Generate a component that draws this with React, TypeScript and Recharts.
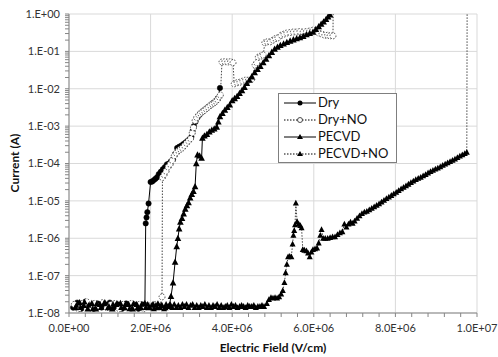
import React from "react";
import {
  LineChart,
  Line,
  XAxis,
  YAxis,
  CartesianGrid,
  Legend,
} from "recharts";

// field in MV/cm (x1e6 V/cm), current in A
const dry: [number, number][] = [
  [0.1, 1.4e-8], [0.2, 1.9e-8], [0.3, 1.3e-8], [0.4, 2.0e-8], [0.5, 1.6e-8], [0.6, 1.3e-8],
  [0.7, 1.8e-8], [0.8, 1.4e-8], [0.9, 1.7e-8], [1.0, 1.9e-8], [1.1, 1.4e-8], [1.2, 1.7e-8],
  [1.3, 1.3e-8], [1.4, 1.8e-8], [1.5, 1.4e-8], [1.6, 1.7e-8], [1.7, 1.3e-8], [1.8, 1.7e-8],
  [1.86, 1.5e-8], [1.88, 2.5e-6], [1.9, 3.6e-6], [1.92, 5.0e-6], [1.95, 8.5e-6], [2.0, 3.2e-5],
  [2.04, 3.3e-5], [2.08, 3.6e-5], [2.12, 3.9e-5], [2.16, 4.3e-5], [2.2, 5.2e-5], [2.25, 6.0e-5],
  [2.3, 7.0e-5], [2.35, 8.0e-5], [2.4, 9.5e-5], [2.45, 1.0e-4], [2.5, 1.15e-4], [2.55, 1.3e-4],
  [2.6, 1.8e-4], [2.65, 2.6e-4], [2.7, 2.8e-4], [2.75, 3.0e-4], [2.8, 3.3e-4], [2.85, 3.6e-4],
  [2.9, 4.0e-4], [2.95, 4.5e-4], [3.0, 5.2e-4], [3.03, 7.5e-4], [3.06, 1.0e-3], [3.1, 1.3e-3],
  [3.15, 1.7e-3], [3.2, 2.0e-3], [3.25, 2.3e-3], [3.3, 2.6e-3], [3.35, 2.9e-3], [3.4, 3.2e-3],
  [3.45, 3.5e-3], [3.5, 3.9e-3], [3.55, 4.3e-3], [3.6, 4.8e-3], [3.65, 5.6e-3], [3.7, 1.05e-2],
];

const dryNo: [number, number][] = [
  [0.13, 1.7e-8], [0.23, 1.3e-8], [0.33, 1.8e-8], [0.43, 2.0e-8], [0.53, 1.4e-8], [0.63, 1.8e-8],
  [0.73, 1.5e-8], [0.83, 1.9e-8], [0.93, 1.4e-8], [1.03, 1.7e-8], [1.13, 1.8e-8], [1.23, 1.3e-8],
  [1.33, 1.7e-8], [1.43, 1.4e-8], [1.53, 1.8e-8], [1.63, 1.4e-8], [1.73, 1.7e-8], [1.83, 1.3e-8],
  [1.93, 1.6e-8], [2.03, 1.4e-8], [2.13, 1.7e-8], [2.23, 1.5e-8], [2.28, 2.7e-8], [2.29, 4.2e-5],
  [2.33, 5.0e-5], [2.38, 6.2e-5], [2.43, 8.0e-5], [2.48, 9.5e-5], [2.53, 1.2e-4], [2.58, 1.6e-4],
  [2.63, 1.9e-4], [2.68, 2.2e-4], [2.73, 2.4e-4], [2.78, 2.6e-4], [2.83, 3.0e-4], [2.88, 3.5e-4],
  [2.93, 4.0e-4], [2.98, 4.6e-4], [3.02, 6.5e-4], [3.05, 9.0e-4], [3.09, 1.4e-3], [3.13, 1.7e-3],
  [3.18, 2.0e-3], [3.22, 2.2e-3], [3.26, 2.4e-3], [3.31, 2.6e-3], [3.36, 2.9e-3], [3.41, 3.2e-3],
  [3.46, 3.6e-3], [3.51, 3.9e-3], [3.56, 4.2e-3], [3.6, 4.6e-3], [3.64, 5.1e-3], [3.68, 6.0e-3],
  [3.71, 6.8e-3], [3.75, 5.2e-2], [3.82, 5.3e-2], [3.89, 5.2e-2], [3.96, 5.3e-2], [4.02, 5.0e-2],
  [4.05, 1.35e-2], [4.12, 1.45e-2], [4.19, 1.5e-2], [4.26, 1.6e-2], [4.33, 1.7e-2], [4.4, 1.7e-2],
  [4.48, 1.8e-2], [4.56, 4.3e-2], [4.6, 5.0e-2], [4.64, 7.0e-2], [4.7, 7.5e-2], [4.76, 8.0e-2],
  [4.8, 1.7e-1], [4.86, 1.8e-1], [4.93, 1.8e-1], [5.0, 2.0e-1], [5.06, 2.2e-1], [5.12, 2.3e-1],
  [5.2, 2.7e-1], [5.27, 2.9e-1], [5.34, 3.1e-1], [5.42, 3.2e-1], [5.5, 3.3e-1], [5.58, 3.3e-1],
  [5.66, 3.4e-1], [5.74, 3.3e-1], [5.82, 3.4e-1], [5.9, 3.5e-1], [5.98, 3.7e-1], [6.06, 3.5e-1],
  [6.12, 3.1e-1], [6.2, 2.9e-1], [6.27, 2.7e-1], [6.34, 2.7e-1], [6.4, 2.6e-1], [6.47, 2.6e-1],
  [6.48, 10],
];

const pecvd: [number, number][] = [
  [0.16, 1.4e-8], [0.26, 1.9e-8], [0.36, 1.6e-8], [0.46, 1.3e-8], [0.56, 1.8e-8], [0.66, 1.3e-8],
  [0.76, 1.7e-8], [0.86, 1.8e-8], [0.96, 1.4e-8], [1.06, 1.3e-8], [1.16, 1.7e-8], [1.26, 1.8e-8],
  [1.36, 1.4e-8], [1.46, 1.7e-8], [1.56, 1.3e-8], [1.66, 1.7e-8], [1.76, 1.4e-8], [1.86, 1.8e-8],
  [1.96, 1.4e-8], [2.06, 1.7e-8], [2.16, 1.4e-8], [2.26, 1.6e-8], [2.36, 1.4e-8], [2.46, 1.6e-8],
  [2.5, 2.8e-8], [2.55, 6.4e-8], [2.6, 2.3e-7], [2.64, 6.0e-7], [2.67, 1.0e-6], [2.7, 1.8e-6],
  [2.73, 2.7e-6], [2.77, 3.4e-6], [2.81, 4.5e-6], [2.85, 6.0e-6], [2.89, 7.5e-6], [2.93, 9.0e-6],
  [2.97, 1.2e-5], [3.01, 1.5e-5], [3.05, 1.8e-5], [3.09, 2.4e-5], [3.12, 1.0e-4], [3.15, 1.7e-4],
  [3.2, 1.6e-4], [3.25, 1.4e-4], [3.27, 4.8e-4], [3.32, 5.5e-4], [3.38, 6.0e-4], [3.44, 7.0e-4],
  [3.5, 7.8e-4], [3.56, 8.5e-4], [3.62, 9.5e-4], [3.66, 1.3e-3], [3.7, 1.8e-3], [3.76, 2.2e-3],
  [3.82, 2.7e-3], [3.88, 3.2e-3], [3.94, 3.7e-3], [4.0, 4.8e-3], [4.06, 5.5e-3], [4.12, 6.3e-3],
  [4.18, 7.5e-3], [4.24, 9.0e-3], [4.3, 1.1e-2], [4.36, 1.4e-2], [4.42, 1.7e-2], [4.48, 2.1e-2],
  [4.55, 2.7e-2], [4.62, 3.3e-2], [4.69, 4.0e-2], [4.76, 5.0e-2], [4.83, 6.2e-2], [4.9, 7.7e-2],
  [4.97, 9.5e-2], [5.04, 1.15e-1], [5.11, 1.3e-1], [5.18, 1.45e-1], [5.26, 1.6e-1], [5.34, 1.75e-1],
  [5.42, 1.9e-1], [5.5, 2.05e-1], [5.58, 2.2e-1], [5.66, 2.35e-1], [5.74, 2.55e-1], [5.82, 2.8e-1],
  [5.9, 3.05e-1], [5.98, 3.3e-1], [6.05, 3.9e-1], [6.12, 4.6e-1], [6.18, 5.4e-1], [6.24, 6.2e-1],
  [6.3, 7.2e-1], [6.35, 8.4e-1], [6.4, 9.5e-1],
];

const pecvdNo: [number, number][] = [
  [0.18, 1.6e-8], [0.28, 1.4e-8], [0.38, 2.0e-8], [0.48, 1.6e-8], [0.58, 1.3e-8], [0.68, 1.8e-8],
  [0.78, 1.4e-8], [0.88, 1.9e-8], [0.98, 1.5e-8], [1.08, 1.7e-8], [1.18, 1.8e-8], [1.28, 1.4e-8],
  [1.38, 1.7e-8], [1.48, 1.3e-8], [1.58, 1.8e-8], [1.68, 1.4e-8], [1.78, 1.7e-8], [1.88, 1.4e-8],
  [1.93, 1.7e-8], [1.98, 1.4e-8], [2.03, 1.6e-8], [2.08, 1.3e-8], [2.13, 1.6e-8], [2.18, 1.8e-8],
  [2.23, 1.4e-8], [2.28, 1.6e-8], [2.33, 1.3e-8], [2.38, 1.7e-8], [2.43, 1.5e-8], [2.48, 1.7e-8],
  [2.53, 1.4e-8], [2.58, 1.7e-8], [2.63, 1.4e-8], [2.68, 1.6e-8], [2.73, 1.4e-8], [2.78, 1.7e-8],
  [2.83, 1.5e-8], [2.88, 1.7e-8], [2.93, 1.4e-8], [2.98, 1.6e-8], [3.03, 1.7e-8], [3.08, 1.4e-8],
  [3.13, 1.6e-8], [3.18, 1.4e-8], [3.23, 1.6e-8], [3.28, 1.5e-8], [3.33, 1.7e-8], [3.38, 1.4e-8],
  [3.43, 1.6e-8], [3.48, 1.4e-8], [3.53, 1.6e-8], [3.58, 1.5e-8], [3.63, 1.7e-8], [3.68, 1.4e-8],
  [3.73, 1.6e-8], [3.78, 1.4e-8], [3.83, 1.5e-8], [3.88, 1.6e-8], [3.93, 1.4e-8], [3.98, 1.7e-8],
  [4.03, 1.5e-8], [4.08, 1.6e-8], [4.13, 1.4e-8], [4.18, 1.5e-8], [4.23, 1.6e-8], [4.28, 1.5e-8],
  [4.33, 1.4e-8], [4.38, 1.6e-8], [4.43, 1.5e-8], [4.48, 1.5e-8], [4.53, 1.6e-8], [4.58, 1.4e-8],
  [4.63, 1.5e-8], [4.68, 1.5e-8], [4.73, 1.6e-8], [4.78, 1.5e-8], [4.85, 1.8e-8], [4.9, 2.3e-8],
  [4.95, 2.6e-8], [5.0, 2.5e-8], [5.05, 2.6e-8], [5.1, 2.5e-8], [5.15, 2.7e-8], [5.2, 3.2e-8],
  [5.24, 4.0e-8], [5.28, 6.5e-8], [5.31, 1.2e-7], [5.34, 2.0e-7], [5.37, 3.2e-7], [5.41, 3.3e-7],
  [5.45, 3.2e-7], [5.48, 7.0e-7], [5.5, 1.2e-6], [5.52, 1.6e-6], [5.54, 2.3e-6], [5.56, 8.8e-6],
  [5.59, 2.8e-6], [5.63, 2.4e-6], [5.67, 2.2e-6], [5.7, 1.9e-6], [5.73, 5.0e-7], [5.77, 4.8e-7],
  [5.82, 4.6e-7], [5.86, 4.0e-7], [5.9, 3.2e-7], [5.94, 4.3e-7], [5.98, 5.0e-7], [6.03, 5.2e-7],
  [6.08, 5.5e-7], [6.12, 7.5e-7], [6.16, 1.2e-6], [6.19, 1.7e-6], [6.23, 1.0e-6], [6.28, 1.0e-6],
  [6.34, 1.0e-6], [6.4, 1.05e-6], [6.46, 1.1e-6], [6.52, 1.1e-6], [6.58, 1.25e-6], [6.64, 1.4e-6],
  [6.7, 1.5e-6], [6.75, 2.4e-6], [6.8, 2.0e-6], [6.85, 2.4e-6], [6.9, 2.7e-6], [6.95, 2.5e-6],
  [7.0, 2.9e-6], [7.06, 3.4e-6], [7.12, 4.0e-6], [7.18, 4.6e-6], [7.24, 5.0e-6], [7.3, 5.3e-6],
  [7.36, 5.8e-6], [7.42, 6.3e-6], [7.48, 6.9e-6], [7.54, 7.6e-6], [7.6, 8.4e-6], [7.66, 9.3e-6],
  [7.72, 1.03e-5], [7.78, 1.15e-5], [7.84, 1.27e-5], [7.9, 1.4e-5], [7.96, 1.55e-5], [8.02, 1.7e-5],
  [8.08, 1.9e-5], [8.14, 2.1e-5], [8.2, 2.3e-5], [8.26, 2.55e-5], [8.32, 2.8e-5], [8.38, 3.1e-5],
  [8.44, 3.4e-5], [8.5, 3.7e-5], [8.56, 4.0e-5], [8.62, 4.3e-5], [8.68, 4.7e-5], [8.74, 5.1e-5],
  [8.8, 5.6e-5], [8.86, 6.1e-5], [8.92, 6.6e-5], [8.98, 7.1e-5], [9.04, 7.6e-5], [9.1, 8.2e-5],
  [9.16, 8.9e-5], [9.22, 9.7e-5], [9.28, 1.05e-4], [9.34, 1.13e-4], [9.4, 1.22e-4], [9.46, 1.32e-4],
  [9.52, 1.44e-4], [9.58, 1.58e-4], [9.64, 1.72e-4], [9.7, 1.86e-4], [9.75, 2.0e-4], [9.76, 10],
];

const X_MAJOR = [0, 2e6, 4e6, 6e6, 8e6, 1e7];
const X_TICK_LABELS = ["0.0E+00", "2.0E+06", "4.0E+06", "6.0E+06", "8.0E+06", "1.0E+07"];
const Y_MAJOR = [1e-8, 1e-7, 1e-6, 1e-5, 1e-4, 1e-3, 1e-2, 1e-1, 1];
const Y_TICK_LABELS = [
  "1.E-08", "1.E-07", "1.E-06", "1.E-05", "1.E-04", "1.E-03", "1.E-02", "1.E-01", "1.E+00",
];

// minor tick marks (every 0.4E+06 on x, 2..9 per decade on y)
const xMinor: number[] = [];
for (let i = 1; i < 25; i++) if (i % 5 !== 0) xMinor.push(i * 4e5);
const yMinor: number[] = [];
for (let e = -8; e < 0; e++) for (let m = 2; m < 10; m++) yMinor.push(m * Math.pow(10, e));

const xTicks = [...X_MAJOR, ...xMinor].sort((a, b) => a - b);
const yTicks = [...Y_MAJOR, ...yMinor].sort((a, b) => a - b);

const toPoints = (arr: [number, number][]) => arr.map(([f, c]) => ({ x: f * 1e6, y: c }));

const FONT = "Lato, 'Liberation Sans', sans-serif";
const AXIS_GRAY = "#868686";

const triangle = (size: number) => (props: any) => {
  const { cx, cy, index } = props;
  if (cx == null || cy == null) return <g key={`t-${index}`} />;
  const w = size * 0.55;
  return (
    <path
      key={`t-${index}`}
      d={`M${cx},${cy - size * 0.6}L${cx + w},${cy + size * 0.45}L${cx - w},${cy + size * 0.45}Z`}
      fill="#000"
    />
  );
};

const SERIES = [
  { name: "Dry", data: toPoints(dry), dash: undefined, marker: "dot" },
  { name: "Dry+NO", data: toPoints(dryNo), dash: "1.5 1.5", marker: "open" },
  { name: "PECVD", data: toPoints(pecvd), dash: undefined, marker: "tri" },
  { name: "PECVD+NO", data: toPoints(pecvdNo), dash: "1.5 1.5", marker: "tri" },
];

const dotFor = (marker: string, big: boolean): any => {
  if (marker === "dot") return { r: 2.7, fill: "#000", stroke: "#000", strokeWidth: 0.5 };
  if (marker === "open") return { r: 3, fill: "#fff", stroke: "#222", strokeWidth: 0.8 };
  return triangle(big ? 6 : 5.5);
};

function LegendBox() {
  return (
    <div
      style={{
        border: "1px solid #7f7f7f",
        background: "#fff",
        width: 117,
        height: 68,
        boxSizing: "content-box",
        fontFamily: FONT,
        fontSize: 13,
        color: "#111",
      }}
    >
      {SERIES.map((s) => (
        <div key={s.name} style={{ display: "flex", alignItems: "center", height: 17 }}>
          <svg width={32} height={10} style={{ marginLeft: 5 }}>
            <line
              x1={0}
              x2={32}
              y1={5}
              y2={5}
              stroke="#000"
              strokeWidth={1}
              strokeDasharray={s.dash}
            />
            {s.marker === "dot" && <circle cx={16} cy={5} r={2.5} fill="#000" />}
            {s.marker === "open" && (
              <circle cx={16} cy={5} r={2.5} fill="#fff" stroke="#222" strokeWidth={0.8} />
            )}
            {s.marker === "tri" && <path d="M16,2L19,7L13,7Z" fill="#000" />}
          </svg>
          <span style={{ marginLeft: 2, lineHeight: "17px" }}>{s.name}</span>
        </div>
      ))}
    </div>
  );
}

export default function App() {
  const fmtX = (v: number) => {
    const i = X_MAJOR.indexOf(v);
    return i >= 0 ? X_TICK_LABELS[i] : "";
  };
  const fmtY = (v: number) => {
    const i = Y_MAJOR.indexOf(v);
    return i >= 0 ? Y_TICK_LABELS[i] : "";
  };

  return (
    <div style={{ position: "absolute", left: 0, top: 0, width: 498, height: 357, background: "#fff" }}>
      <LineChart width={498} height={357} margin={{ top: 14, right: 21, bottom: 0, left: 0 }}>
        <CartesianGrid
          stroke="#d9d9d9"
          horizontalValues={Y_MAJOR}
          verticalValues={X_MAJOR}
        />
        <XAxis
          dataKey="x"
          type="number"
          domain={[0, 1e7]}
          ticks={xTicks}
          interval={0}
          allowDataOverflow
          tickFormatter={fmtX}
          height={44}
          stroke={AXIS_GRAY}
          tickSize={4}
          tickMargin={7}
          tick={{ fill: "#333", fontSize: 11, fontFamily: FONT }}
          label={() => (
            <text
              x={273}
              y={347}
              textAnchor="middle"
              dominantBaseline="central"
              fontFamily={FONT}
              fontWeight="bold"
              fontSize={12}
              fill="#111"
            >
              Electric Field (V/cm)
            </text>
          )}
        />
        <YAxis
          dataKey="y"
          scale="log"
          domain={[1e-8, 1]}
          ticks={yTicks}
          interval={0}
          allowDataOverflow
          tickFormatter={fmtY}
          width={69}
          stroke={AXIS_GRAY}
          tickSize={4}
          tickMargin={5}
          tick={{ fill: "#333", fontSize: 11, fontFamily: FONT }}
          label={() => (
            <text
              x={14}
              y={163}
              transform="rotate(-90 14 163)"
              textAnchor="middle"
              dominantBaseline="central"
              fontFamily={FONT}
              fontWeight="bold"
              fontSize={12}
              fill="#111"
            >
              Current (A)
            </text>
          )}
        />
        {SERIES.map((s, i) => (
          <Line
            key={s.name}
            name={s.name}
            data={s.data}
            dataKey="y"
            type="linear"
            stroke={s.dash ? "#444" : "#000"}
            strokeWidth={1}
            strokeDasharray={s.dash}
            dot={dotFor(s.marker, i === 2)}
            activeDot={false}
            isAnimationActive={false}
          />
        ))}
        <Legend
          layout="vertical"
          align="center"
          verticalAlign="middle"
          wrapperStyle={{ left: 278, top: 93, width: 119, height: 70 }}
          content={() => <LegendBox />}
        />
      </LineChart>
    </div>
  );
}
